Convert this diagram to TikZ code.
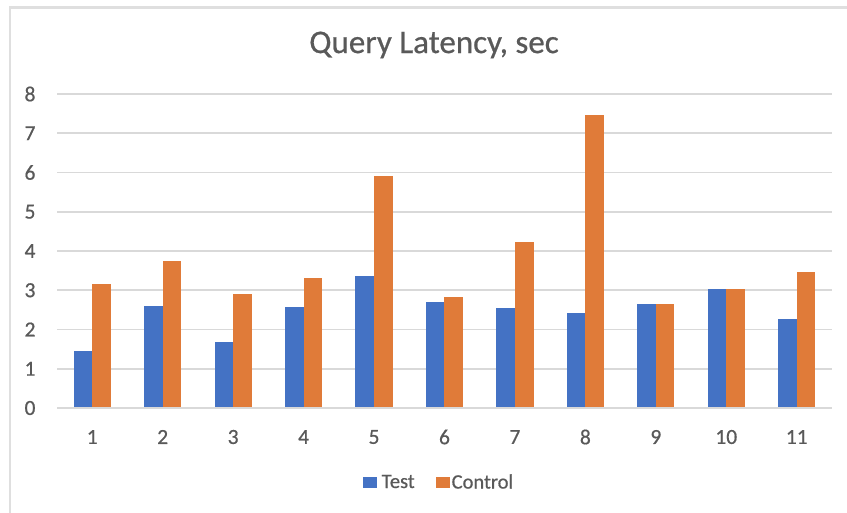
\documentclass[tikz,border=0pt]{standalone}
\usepackage{fontspec}
\setmainfont{Carlito}[FakeBold=0.6]
\definecolor{testblue}{HTML}{4472C4}
\definecolor{ctrlorange}{HTML}{E07B39}
\definecolor{gridgray}{HTML}{D9D9D9}
\definecolor{labelgray}{HTML}{595959}
\tikzset{
  gridline/.style={draw=gridgray, line width=1.6pt},
  framebox/.style={draw=gridgray!85, line width=2.2pt},
  ticklabel/.style={text=labelgray, font=\fontsize{21.5}{24}\selectfont, inner sep=0pt},
  titlelabel/.style={text=labelgray, font=\fontsize{33}{36}\selectfont, inner sep=0pt},
  legendlabel/.style={text=labelgray, font=\fontsize{20.5}{24}\selectfont, inner sep=0pt, anchor=west},
  testbar/.style={fill=testblue},
  ctrlbar/.style={fill=ctrlorange}
}
\begin{document}
\begin{tikzpicture}[x=1pt,y=-1pt]
  % canvas, in pixel units with y downward
  \useasboundingbox (0,0) rectangle (847,513);
  \fill[white] (0,0) rectangle (847,513);
  % chart frame (top and left edges)
  \draw[framebox] (10,513) -- (10,7.5) -- (847,7.5);
  % title
  \node[titlelabel] (title) at (434,45) {Query Latency, sec};
  % horizontal gridlines and value labels; 0 sits at y=408, 39.25 px per unit
  \foreach \v in {0,...,8} {
    \draw[gridline] (57,{408-39.25*\v}) -- (832,{408-39.25*\v});
    \node[ticklabel] (ylab\v) at (30,{408-39.25*\v}) {\v};
  }
  % bars: category, Test value, Control value
  \foreach \i/\t/\c in {1/1.46/3.15, 2/2.61/3.75, 3/1.67/2.91, 4/2.58/3.30,
                        5/3.36/5.92, 6/2.69/2.82, 7/2.56/4.24, 8/2.43/7.47,
                        9/2.64/2.64, 10/3.02/3.02, 11/2.28/3.47} {
    \pgfmathsetmacro{\cx}{57+70.45*(\i-0.5)}
    \fill[testbar] ({\cx-18.6},408) rectangle (\cx,{408-39.25*\t});
    \fill[ctrlbar] (\cx,408) rectangle ({\cx+18.6},{408-39.25*\c});
    \node[ticklabel] (xlab\i) at (\cx,437) {\i};
  }
  % baseline drawn over the bars
  \draw[gridline] (57,408) -- (832,408);
  % legend
  \fill[testbar] (363,477) rectangle (377,488) coordinate (testkey);
  \node[legendlabel] (testtext) at (381.5,481.5) {Test};
  \fill[ctrlbar] (436,477) rectangle (450,488) coordinate (ctrlkey);
  \node[legendlabel] (ctrltext) at (451.5,481.5) {Control};
\end{tikzpicture}
\end{document}
